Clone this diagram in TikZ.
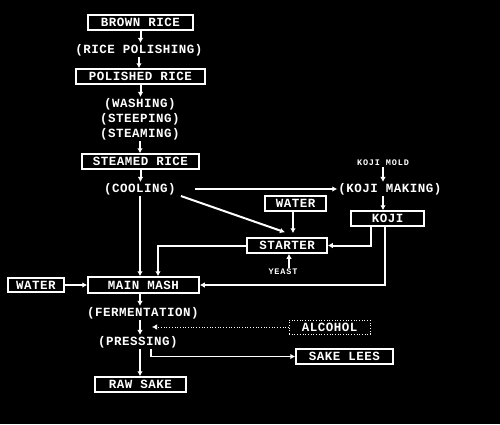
\documentclass[tikz,border=0pt]{standalone}
\usepackage{fontspec}
\newfontfamily\flowfont{Liberation Mono}[LetterSpace=4]
\newfontfamily\smallflowfont{Liberation Mono}[LetterSpace=10]
\usetikzlibrary{arrows.meta}
\tikzset{
  box/.style={draw=white, line width=1.5pt, text=white, inner sep=0pt, minimum height=15pt,
    font=\flowfont\bfseries\fontsize{12.5}{12.5}\selectfont},
  stage/.style={text=white, inner sep=1pt, font=\flowfont\bfseries\fontsize{12.5}{12.5}\selectfont},
  note/.style={text=white, inner sep=1pt, font=\smallflowfont\bfseries\fontsize{8.5}{8.5}\selectfont},
  flow/.style={draw=white, line width=2pt, -{Latex[length=5pt,width=5.5pt]}}
}
\begin{document}
\begin{tikzpicture}[x=1pt,y=-1pt]

        %Background
        \fill [black] (0,0) rectangle (500,424);

        %Rice line
        \node [box, minimum width=105pt] (brown)    at (140.5,22.5)  {BROWN RICE};
        \node [stage]                    (polishing) at (139,50)    {(RICE POLISHING)};
        \node [box, minimum width=129pt] (polished) at (140.5,76.5)  {POLISHED RICE};
        \node [stage]                    (washing)  at (140,104)     {(WASHING)};
        \node [stage]                    (steeping) at (140,119)     {(STEEPING)};
        \node [stage]                    (steaming) at (140,134)     {(STEAMING)};
        \node [box, minimum width=117pt] (steamed)  at (140.5,161.5) {STEAMED RICE};
        \node [stage]                    (cooling)  at (140,189)     {(COOLING)};
        \draw [flow] (brown.south)    -- (brown.south |- polishing.north);
        \draw [flow] (polishing.south) -- (polishing.south |- polished.north);
        \draw [flow] (polished.south) -- (polished.south |- washing.north);
        \draw [flow] (steaming.south) -- (steaming.south |- steamed.north);
        \draw [flow] (steamed.south)  -- (steamed.south |- cooling.north);

        %Koji
        \node [note]                     (kojimold)   at (383,163)     {KOJI MOLD};
        \node [stage]                    (kojimaking) at (390,189)     {(KOJI MAKING)};
        \node [box, minimum width=73pt]  (koji)       at (387.5,218.5) {KOJI};
        \draw [flow] ([xshift=18pt]cooling.east) -- (kojimaking.west);
        \draw [flow] (kojimold.south) -- (kojimold.south |- kojimaking.north);
        \draw [flow] (kojimold.south |- kojimaking.south) -- (kojimold.south |- koji.north);

        %Starter
        \node [box, minimum width=61pt]  (water2)  at (295.5,203.5) {WATER};
        \node [box, minimum width=80pt]  (starter) at (287,245.5)   {STARTER};
        \node [note]                     (yeast)   at (283,272)     {YEAST};
        \draw [flow] ([xshift=-2.5pt]water2.south) -- ([xshift=-2.5pt,yshift=4pt]water2.south |- starter.north);
        \draw [flow] ([xshift=4pt]cooling.south east) -- ([shift={(-2,-5)}]starter.north);
        \draw [flow] ([xshift=6pt]yeast.north) -- ([xshift=6pt]yeast.north |- starter.south);
        \draw [flow] ([xshift=-16.5pt]koji.south) |- (starter.east);

        %Main mash
        \node [box, minimum width=56pt, minimum height=14pt] (water1)   at (36,285)    {WATER};
        \node [box, minimum width=111pt, minimum height=16pt] (mainmash) at (143.5,285) {MAIN MASH};
        \draw [flow] (cooling.south) -- (cooling.south |- mainmash.north);
        \draw [flow] (starter.west) -| ([xshift=14.5pt]mainmash.north);
        \draw [flow] ([xshift=-2.5pt]koji.south) |- (mainmash.east);
        \draw [flow] (water1.east) -- (mainmash.west);

        %Fermentation and pressing
        \node [stage]                    (fermentation) at (143,313)   {(FERMENTATION)};
        \node [box, minimum width=81pt, minimum height=14pt, line width=0.7pt, dotted] (alcohol) at (329.5,327) {ALCOHOL};
        \coordinate (alcoholin) at (152,327);
        \node [stage]                    (pressing)     at (138,342)   {(PRESSING)};
        \node [box, minimum width=97pt]  (lees)         at (344.5,356.5) {SAKE LEES};
        \node [box, minimum width=91pt]  (raw)          at (140.5,384.5) {RAW SAKE};
        \draw [flow] (cooling.south |- mainmash.south) -- (cooling.south |- fermentation.north);
        \draw [flow] (cooling.south |- fermentation.south) -- (cooling.south |- pressing.north);
        \draw [flow, line width=0.7pt, dotted] (alcohol.west) -- (alcoholin);
        \draw [flow, line width=1.5pt] ([xshift=13pt]pressing.south) |- (lees.west);
        \draw [flow] (cooling.south |- pressing.south) -- (cooling.south |- raw.north);

\end{tikzpicture}
\end{document}
